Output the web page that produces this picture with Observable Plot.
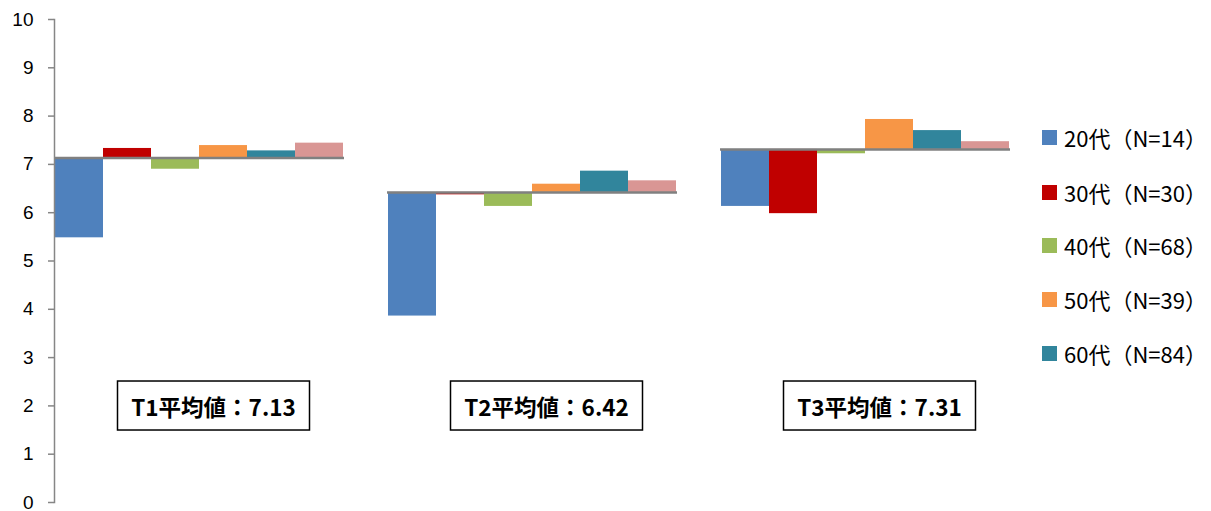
<!DOCTYPE html>
<html>
<head>
<meta charset="utf-8">
<script src="https://cdn.jsdelivr.net/npm/d3@7"></script>
<script src="https://cdn.jsdelivr.net/npm/@observablehq/plot@0.6"></script>
<style>
  html, body { margin: 0; padding: 0; background: #fff; }
  #wrap { position: relative; width: 1211px; height: 511px; }
  #legend { position: absolute; left: 1042px; top: 0; font-family: "Noto Sans CJK JP", sans-serif; font-size: 22px; color: #000; }
  .item { position: absolute; left: 0; display: flex; align-items: center; white-space: nowrap; transform: translateY(-50%); }
  .sw { width: 15px; height: 15px; margin-right: 7px; }
</style>
</head>
<body>
<div id="wrap"><div id="legend"></div></div>
<script>
const groups = ["T1", "T2", "T3"];
const ages = ["20代", "30代", "40代", "50代", "60代", "70代"];
const averages = [7.13, 6.42, 7.31];
const t1Values = [5.48, 7.33, 6.90, 7.39, 7.28, 7.44];
const t2Values = [3.86, 6.37, 6.13, 6.59, 6.86, 6.66];
const t3Values = [6.13, 5.98, 7.22, 7.93, 7.70, 7.47];
const colors = ["#4F81BD", "#C00000", "#9BBB59", "#F79646", "#31859C", "#D99694"];
const legendLabels = ["20代（N=14）", "30代（N=30）", "40代（N=68）", "50代（N=39）", "60代（N=84）"];
const yTicks = [0, 1, 2, 3, 4, 5, 6, 7, 8, 9, 10];

const seriesByGroup = [t1Values, t2Values, t3Values];
const rows = [];
groups.forEach((g, gi) => {
  seriesByGroup[gi].forEach((v, ai) => {
    rows.push({group: g, age: ages[ai], value: v, avg: averages[gi]});
  });
});
const avgRows = groups.map((g, gi) => ({group: g, avg: averages[gi]}));

const chart = Plot.plot({
  width: 1211,
  height: 511,
  marginLeft: 54,
  marginRight: 200,
  marginTop: 19,
  marginBottom: 9,
  style: {fontFamily: "'Liberation Sans', sans-serif", background: "#fff", overflow: "visible"},
  fx: {domain: groups, paddingInner: 0.128, paddingOuter: 0, axis: null},
  x: {domain: ages, padding: 0, axis: null},
  y: {domain: [0, 10], axis: null},
  color: {domain: ages, range: colors},
  marks: [
    Plot.barY(rows, {fx: "group", x: "age", y1: "avg", y2: "value", fill: "age", inset: 0}),
    Plot.ruleY(avgRows, {fx: "group", y: "avg", stroke: "#808080", strokeWidth: 2.5}),
    Plot.frame({anchor: "left", facetAnchor: "left", stroke: "#868686", strokeWidth: 1.5}),
    Plot.axisY({ticks: yTicks, tickSize: 6, tickPadding: 15, fontSize: 19, stroke: "#868686", strokeWidth: 1.5, strokeOpacity: 1, fill: "#000", tickFormat: d => String(d)}),
    Plot.text(avgRows, {fx: "group", y: 1.95, dx: 14, text: d => `${d.group}平均値：${d.avg.toFixed(2)}`, fontSize: 22.5, fontWeight: "bold", fill: "#000", fontFamily: "'Noto Sans CJK JP', sans-serif", className: "avg-label"})
  ]
});
document.getElementById("wrap").prepend(chart);

// boxes around the average labels
d3.select(chart).selectAll(".avg-label text").each(function() {
  const b = this.getBBox();
  const cx = b.x + b.width / 2, cy = b.y + b.height / 2;
  const w = 192, h = 49;
  const r = d3.select(this.parentNode).insert("rect", () => this)
    .attr("x", cx - w / 2).attr("y", cy - h / 2)
    .attr("width", w).attr("height", h)
    .attr("fill", "#fff").attr("stroke", "#000").attr("stroke-width", 1.5);
  const t = this.getAttribute("transform");
  if (t) r.attr("transform", t);
});

// legend
const legendTops = [137, 192, 245, 299, 353];
const legend = d3.select("#legend");
legendLabels.forEach((lab, i) => {
  const it = legend.append("div").attr("class", "item").style("top", legendTops[i] + "px");
  it.append("div").attr("class", "sw").style("background", colors[i]);
  it.append("span").text(lab);
});
</script>
</body>
</html>
